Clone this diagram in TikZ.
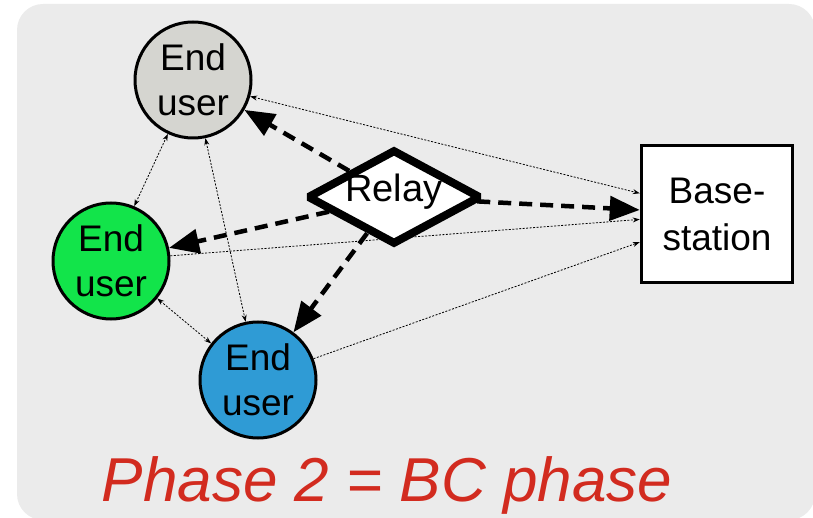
\documentclass[tikz,border=0pt]{standalone}
\usepackage{fontspec}
\setmainfont{Liberation Sans}
\usetikzlibrary{arrows.meta,shapes.geometric}
\definecolor{bgc}{RGB}{235,235,235}
\definecolor{usergray}{RGB}{213,213,208}
\definecolor{usergreen}{RGB}{18,228,74}
\definecolor{userblue}{RGB}{47,155,213}
\definecolor{titlered}{RGB}{210,43,31}
\pgfdeclarelayer{back}
\pgfdeclarelayer{edges}
\pgfsetlayers{back,edges,main}
\begin{document}
\begin{tikzpicture}[x=1pt,y=-1pt,
  user/.style={circle,draw=black,line width=3pt,minimum size=116pt,inner sep=0pt,align=center,font=\fontsize{37}{45}\selectfont},
  bsbox/.style={rectangle,draw=black,line width=3.5pt,fill=white,minimum width=151pt,minimum height=137pt,inner sep=0pt,align=center,font=\fontsize{37}{47}\selectfont},
  relaybox/.style={diamond,draw=black,line width=8pt,fill=white,minimum width=174pt,minimum height=95pt,inner sep=0pt,miter limit=1.5},
  bigarrow/.style={line width=4.5pt,dash pattern=on 13pt off 8pt,-{Triangle[length=30pt,width=24pt]}},
  thinlink/.style={line width=0.8pt,dash pattern=on 2pt off 1.5pt},
  onetip/.style={-{Stealth[length=7pt,width=5pt]}},
  twotip/.style={{Stealth[length=7pt,width=5pt]}-{Stealth[length=7pt,width=5pt]}}
]
\useasboundingbox (0,0) rectangle (813,518);
\begin{pgfonlayer}{back}
  \fill[bgc,rounded corners=26pt] (17,4) rectangle (815,520);
\end{pgfonlayer}

\node[user,fill=usergray] (top) at (193,80) {End\\user};
\node[user,fill=usergreen] (green) at (111,261) {End\\user};
\node[user,fill=userblue] (blue) at (258,380) {End\\user};
\node[relaybox] (relay) at (394,197) {};
\node[font=\fontsize{38}{45}\selectfont,anchor=base] (relaytxt) at (394,202) {Relay};
\node[bsbox] (base) at (717,214) {Base-\\station};
\node[anchor=base,text=titlered,font=\fontsize{62}{70}\selectfont\itshape] (title) at (387,501) {Phase 2 = BC phase};

\begin{pgfonlayer}{edges}
  \draw[thinlink,twotip] (top.-16) -- (base.165);
  \draw[thinlink,onetip] (green.5) -- (base.184);
  \draw[thinlink,onetip] (blue.21) -- (base.200);
  \draw[thinlink,twotip] (green.67) -- (top.-115);
  \draw[thinlink,twotip] (top.-78) -- (blue.102);
  \draw[thinlink,twotip] (green.-39) -- (blue.142);
  \draw[bigarrow] (relay) -- (top);
  \draw[bigarrow] (relay) -- (green);
  \draw[bigarrow] (relay) -- (blue);
  \draw[bigarrow] (relay) -- (base);
\end{pgfonlayer}
\end{tikzpicture}
\end{document}
